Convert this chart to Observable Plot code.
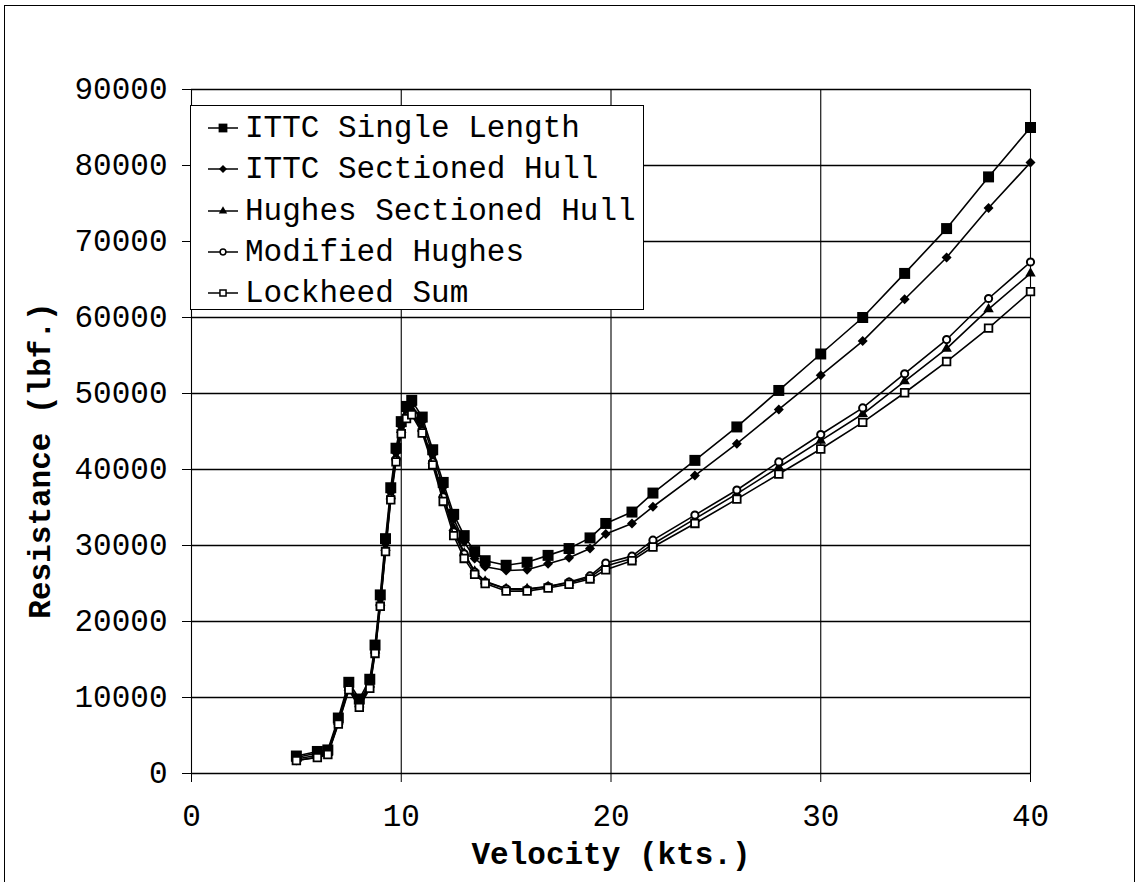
<!DOCTYPE html>
<html><head><meta charset="utf-8">
<script src="https://cdn.jsdelivr.net/npm/d3@7"></script>
<script src="https://cdn.jsdelivr.net/npm/@observablehq/plot@0.6"></script>
<style>
body{margin:0;background:#fff;}
#wrap{position:relative;width:1138px;height:882px;overflow:hidden;background:#fff;}
#wrap svg.plot{position:absolute;left:0;top:0;}
#border{position:absolute;left:4px;top:5px;width:1129px;height:890px;border:1.5px solid #000;border-bottom:none;pointer-events:none;}
#legend{position:absolute;left:190px;top:105px;width:452px;height:203px;border:1.5px solid #000;background:#fff;font-family:"Liberation Mono","Courier New",monospace;font-size:31px;color:#000;}
.row{position:absolute;left:0;height:40px;display:flex;align-items:center;white-space:pre;}
.row svg{display:block;}
</style></head>
<body>
<div id="wrap"><div id="border"></div></div>
<script>
// ---- data ----
const velocity = [5,6,6.5,7,7.5,8,8.5,8.75,9,9.25,9.5,9.75,10,10.25,10.5,11,11.5,12,12.5,13,13.5,14,15,16,17,18,19,19.75,21,22,24,26,28,30,32,34,36,38,40];
const ittcSingle = [2300,2900,3100,7300,12000,9800,12400,16900,23500,30900,37600,42800,46300,48300,49100,46900,42600,38300,34100,31300,29200,28000,27400,27800,28700,29600,31000,32900,34400,36900,41200,45600,50400,55200,60000,65800,71700,78500,85000];
const ittcSectioned = [2100,2700,2900,7000,11600,9400,12000,16500,23000,30300,37000,42200,45700,47700,48500,46300,42000,37700,33500,30500,28300,27200,26700,26800,27600,28400,29600,31500,32900,35100,39200,43400,47900,52400,56900,62400,67900,74400,80400];
const hughesSectioned = [1900,2400,2700,6800,11300,9100,11700,16200,22500,29700,36500,41700,45200,47200,47800,45400,41200,36700,32300,29000,26600,25300,24300,24300,24600,25100,25800,27300,28300,30200,33500,36800,40300,43800,47300,51600,55900,61100,65800];
const modifiedHughes = [1700,2150,2600,6600,11200,8900,11400,16000,22100,29300,36300,41300,45000,47000,47500,45100,41000,36400,31800,28900,26500,25200,24300,24200,24600,25200,26000,27700,28600,30700,34000,37300,41000,44600,48100,52600,57100,62500,67300];
const lockheedSum = [1700,2100,2500,6500,11000,8700,11200,15800,22000,29200,36000,41000,44700,46700,47200,44800,40600,35800,31300,28300,26200,25000,24000,24000,24400,24900,25600,26800,28000,29800,32900,36100,39400,42700,46200,50100,54200,58600,63400];
const seriesNames = ["ITTC Single Length","ITTC Sectioned Hull","Hughes Sectioned Hull","Modified Hughes","Lockheed Sum"];
const seriesValues = [ittcSingle, ittcSectioned, hughesSectioned, modifiedHughes, lockheedSum];
const xTicks = [0,10,20,30,40];
const yTicks = [0,10000,20000,30000,40000,50000,60000,70000,80000,90000];
const xTitle = "Velocity (kts.)";
const yTitle = "Resistance (lbf.)";

// marker styles
const styles = [
  {symbol:"square", fill:"#000", r:6.2, sw:0},
  {symbol:"diamond2", fill:"#000", r:4.5, sw:0},
  {symbol:"triangle", fill:"#000", r:3.9, sw:0},
  {symbol:"circle", fill:"#fff", r:3.6, sw:2},
  {symbol:"square", fill:"#fff", r:4.3, sw:1.8}
];

const FONT = '"Liberation Mono","Courier New",monospace';

const marks = [
  Plot.ruleY(yTicks, {stroke:"#000", strokeWidth:1.4}),
  Plot.ruleX(xTicks, {stroke:"#000", strokeWidth:1.1}),
  Plot.axisY({ticks: yTicks, tickSize: 9, tickPadding: 15, fontSize: 31, label: null, tickFormat: d => String(d)}),
  Plot.axisX({ticks: xTicks, tickSize: 9, tickPadding: 21, fontSize: 31, label: null, tickFormat: d => String(d)})
];
seriesNames.forEach((name, i) => {
  const data = velocity.map((v, j) => ({series: name, v, r: seriesValues[i][j]}));
  const s = styles[i];
  marks.push(Plot.line(data, {x:"v", y:"r", stroke:"#000", strokeWidth:1.6}));
  marks.push(Plot.dot(data, {x:"v", y:"r", symbol: s.symbol, r: s.r, fill: s.fill, stroke:"#000", strokeWidth: s.sw}));
});
marks.push(Plot.text([xTitle], {text: d => d, frameAnchor:"bottom", dy: 81, fontSize: 31, fontWeight:"bold", textAnchor:"middle", lineAnchor:"middle"}));
marks.push(Plot.text([yTitle], {text: d => d, frameAnchor:"left", dx: -151, dy: 29, rotate: -90, fontSize: 31, fontWeight:"bold", textAnchor:"middle", lineAnchor:"middle"}));

const chart = Plot.plot({
  width: 1138, height: 882,
  marginLeft: 191, marginRight: 108, marginTop: 89, marginBottom: 109,
  x: {domain: [0, 40]},
  y: {domain: [0, 90000]},
  style: {fontFamily: FONT, background: "transparent", color: "#000", overflow: "visible"},
  marks
});
chart.classList.add("plot");
const wrap = document.getElementById("wrap");
wrap.insertBefore(chart, wrap.firstChild);

// legend
const legend = document.createElement("div");
legend.id = "legend";
const symMap = {square: d3.symbolSquare, diamond2: d3.symbolDiamond2, triangle: d3.symbolTriangle, circle: d3.symbolCircle};
const rowCenters = [22, 63, 105, 146, 187];
seriesNames.forEach((name, i) => {
  const row = document.createElement("div");
  row.className = "row";
  row.style.top = (rowCenters[i] - 20) + "px";
  const s = styles[i];
  const svg = d3.create("svg").attr("width", 54).attr("height", 40);
  svg.append("line").attr("x1", 17).attr("x2", 47).attr("y1", 20).attr("y2", 20).attr("stroke", "#000").attr("stroke-width", 1.5);
  const rr = s.r * 0.8;
  svg.append("path").attr("transform", "translate(32,20)")
    .attr("d", d3.symbol(symMap[s.symbol], Math.PI * rr * rr)())
    .attr("fill", s.fill).attr("stroke", "#000").attr("stroke-width", s.sw ? 1.5 : 0);
  row.appendChild(svg.node());
  const t = document.createElement("span");
  t.textContent = name;
  row.appendChild(t);
  legend.appendChild(row);
});
wrap.appendChild(legend);
</script>
</body></html>
